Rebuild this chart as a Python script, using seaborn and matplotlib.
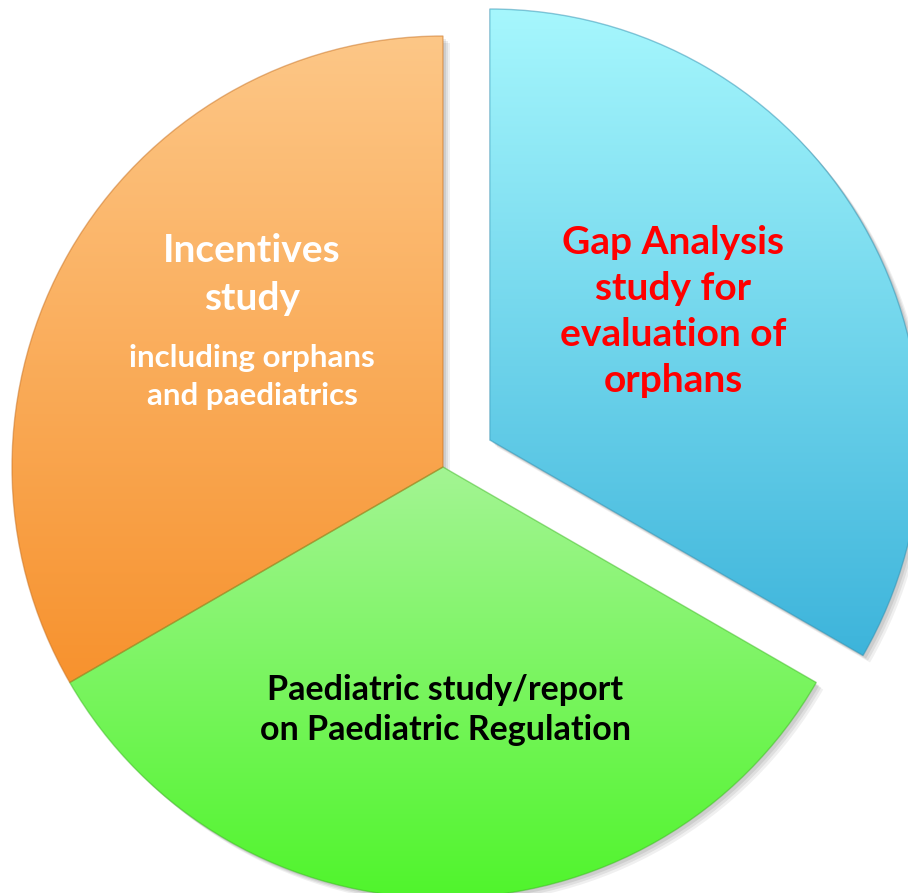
import matplotlib
matplotlib.use("Agg")
import matplotlib.pyplot as plt
import numpy as np
import seaborn as sns
from matplotlib.colors import LinearSegmentedColormap

# three equal parts of the work programme, clockwise from 12 o'clock
studies = ["Gap Analysis study", "Paediatric study", "Incentives study"]
shares = [1, 1, 1]
pulled_out = [54, 0, 0]

top_colors = ["#A6F7FD", "#A3F593", "#FDC787"]
bottom_colors = ["#3DB4DB", "#50F42C", "#F7922E"]
edge_colors = ["#2E8FB0", "#3DB823", "#C8701F"]

gap_lines = ["Gap Analysis", "study for", "evaluation of", "orphans"]
incentive_lines = ["Incentives", "study"]
incentive_sub = ["including orphans", "and paediatrics"]
paed_lines = ["Paediatric study/report", "on Paediatric Regulation"]

sns.set_theme(style="white")
plt.rcParams["font.family"] = ["Lato", "DejaVu Sans"]

W, H = 908, 893
fig = plt.figure(figsize=(W / 100, H / 100), dpi=100)
ax = fig.add_axes([0, 0, 1, 1])
center = (443, H - 467)
radius = 431

# soft drop shadow under the slices
for k, a in [(7, 0.06), (5, 0.07), (3, 0.08)]:
    ax.pie(shares, explode=pulled_out, startangle=90, counterclock=False,
           radius=radius, center=(center[0] + k, center[1] - k),
           colors=["#000000"] * 3, wedgeprops=dict(alpha=a, linewidth=0))

wedges, _ = ax.pie(shares, explode=pulled_out, startangle=90, counterclock=False,
                   radius=radius, center=center, colors=bottom_colors,
                   wedgeprops=dict(linewidth=0))

grad = np.linspace(0, 1, 256).reshape(-1, 1)
for w, c_top, c_bot, c_edge in zip(wedges, top_colors, bottom_colors, edge_colors):
    bb = w.get_path().get_extents()
    cmap = LinearSegmentedColormap.from_list("fill", [c_bot, c_top])
    im = ax.imshow(grad, cmap=cmap, origin="lower", aspect="auto",
                   extent=[bb.x0, bb.x1, bb.y0, bb.y1], zorder=2)
    im.set_clip_path(w)
    w.set_facecolor("none")
    w.set_edgecolor(c_edge)
    w.set_linewidth(1.0)
    w.set_alpha(0.5)
    w.set_zorder(3)

for i, line in enumerate(gap_lines):
    ax.text(673, H - 243 - i * 46, line, ha="center", va="center",
            color="#FF0000", fontsize=28, fontweight="bold", zorder=4)
for i, line in enumerate(incentive_lines):
    ax.text(252, H - 250 - i * 48, line, ha="center", va="center",
            color="white", fontsize=28, fontweight="bold", zorder=4)
for i, line in enumerate(incentive_sub):
    ax.text(252, H - 358 - i * 38, line, ha="center", va="center",
            color="white", fontsize=22.5, fontweight="bold", zorder=4)
for i, line in enumerate(paed_lines):
    ax.text(445, H - 690 - i * 40, line, ha="center", va="center",
            color="black", fontsize=24.5, fontweight="bold", zorder=4)

ax.set_xlim(0, W)
ax.set_ylim(0, H)
ax.set_aspect("equal")
ax.set_axis_off()

fig.savefig("out.png", dpi=100, facecolor="white")
